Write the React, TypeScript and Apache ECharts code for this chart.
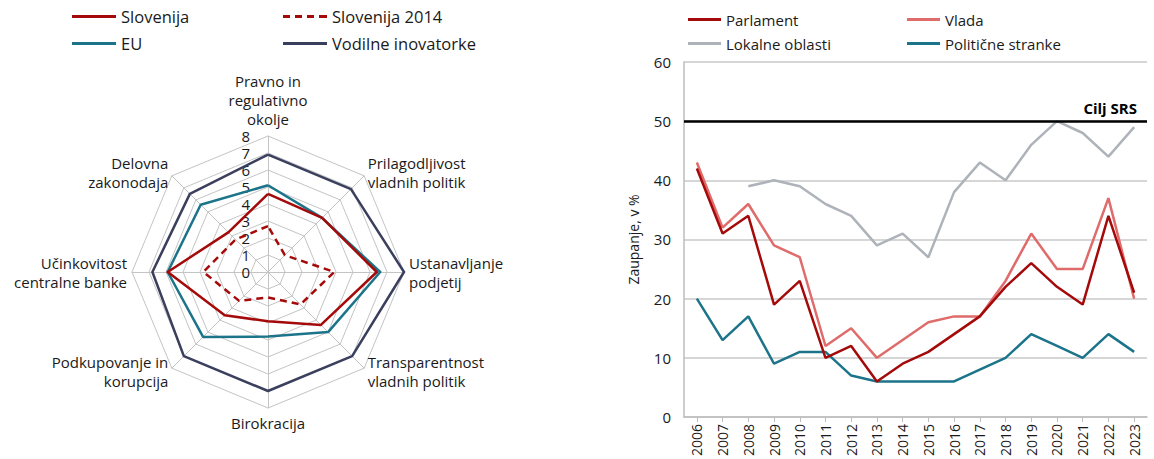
import React, { useEffect, useRef } from "react";
import * as echarts from "echarts";

// ---- Radar data (clockwise order from top) ----
const radarNames = [
  "Pravno in\nregulativno\nokolje",
  "Prilagodljivost\nvladnih politik",
  "Ustanavljanje\npodjetij",
  "Transparentnost\nvladnih politik",
  "Birokracija",
  "Podkupovanje in\nkorupcija",
  "Učinkovitost\ncentralne banke",
  "Delovna\nzakonodaja",
];
const slovenija = [4.6, 4.5, 6.4, 4.4, 2.9, 3.6, 5.9, 3.3];
const slovenija2014 = [2.7, 1.4, 3.9, 2.7, 1.5, 2.4, 3.8, 2.7];
const eu = [5.1, 4.5, 6.6, 5.0, 3.8, 5.4, 5.9, 5.6];
const vodilne = [6.9, 6.9, 8.0, 7.0, 7.0, 7.0, 6.8, 6.5];

// ---- Line chart data ----
const years = [
  "2006", "2007", "2008", "2009", "2010", "2011", "2012", "2013", "2014",
  "2015", "2016", "2017", "2018", "2019", "2020", "2021", "2022", "2023",
];
const parlament = [42, 31, 34, 19, 23, 10, 12, 6, 9, 11, 14, 17, 22, 26, 22, 19, 34, 21];
const vlada = [43, 32, 36, 29, 27, 12, 15, 10, 13, 16, 17, 17, 23, 31, 25, 25, 37, 20];
const lokalne = [null, null, 39, 40, 39, 36, 34, 29, 31, 27, 38, 43, 40, 46, 50, 48, 44, 49];
const stranke = [20, 13, 17, 9, 11, 11, 7, 6, 6, 6, 6, 8, 10, 14, 12, 10, 14, 11];
const targetValue = 50;
const targetLabel = "Cilj SRS";

const FONT = "'Open Sans', 'Noto Sans', sans-serif";
const TXT = "#1a1a1a";
const RED = "#a50a0a";
const LIGHTRED = "#df6b6b";
const GREY = "#aeb3ba";
const TEAL = "#1b7489";
const NAVY = "#3a3f5e";

// counter-clockwise order for ECharts radar (starting at top)
const ccw = (arr: any[]) => [arr[0], ...arr.slice(1).reverse()];

const dashPath = "path://M0,0h14v6h-14z M24,0h14v6h-14z M48,0h14v6h-14z M72,0h16v6h-16z";

export default function App() {
  const ref = useRef<HTMLDivElement>(null);
  useEffect(() => {
    const chart = echarts.init(ref.current!, undefined, { renderer: "svg" });
    const legendBase = {
      orient: "horizontal",
      itemWidth: 44,
      itemHeight: 3,
      itemGap: 6,
      padding: 0,
      symbolKeepAspect: false,
      textStyle: { fontFamily: FONT, fontSize: 16.5, color: TXT },
      selectedMode: false,
    };
    const rightLegend = {
      ...legendBase,
      itemWidth: 33,
      textStyle: { fontFamily: FONT, fontSize: 15, color: TXT },
    };
    const names = ccw(radarNames);
    chart.setOption({
      animation: false,
      textStyle: { fontFamily: FONT },
      legend: [
        { ...legendBase, data: [{ name: "Slovenija", icon: "rect" }], left: 72, top: 8 },
        { ...legendBase, data: [{ name: "Slovenija 2014", icon: dashPath }], left: 283, top: 8 },
        { ...legendBase, data: [{ name: "EU", icon: "rect" }], left: 72, top: 35 },
        { ...legendBase, data: [{ name: "Vodilne inovatorke", icon: "rect" }], left: 283, top: 35 },
        { ...rightLegend, data: [{ name: "Parlament", icon: "rect" }], left: 688, top: 12 },
        { ...rightLegend, data: [{ name: "Vlada", icon: "rect" }], left: 907, top: 12 },
        { ...rightLegend, data: [{ name: "Lokalne oblasti", icon: "rect" }], left: 688, top: 36 },
        { ...rightLegend, data: [{ name: "Politične stranke", icon: "rect" }], left: 907, top: 36 },
      ],
      radar: {
        center: [268, 272],
        radius: 136,
        shape: "polygon",
        startAngle: 90,
        splitNumber: 8,
        nameGap: 5,
        indicator: names.map((n: string, i: number) =>
          i === 0
            ? { name: n, min: 0, max: 8, axisLabel: { show: true } }
            : { name: n, min: 0, max: 8 }
        ),
        axisName: { color: TXT, fontSize: 15, fontFamily: FONT, lineHeight: 19 },
        splitLine: { lineStyle: { color: "#c4c4c4", width: 1 } },
        splitArea: { show: false },
        axisLine: { lineStyle: { color: "#c4c4c4", width: 1 } },
        axisTick: { show: false },
        axisLabel: { show: false, fontSize: 15, lineHeight: 15, color: TXT, fontFamily: FONT, margin: 18 },
      },
      grid: { left: 684, right: 7, top: 62, bottom: 41 },
      xAxis: {
        type: "category",
        data: years,
        boundaryGap: true,
        axisLine: { lineStyle: { color: "#bdbdbd", width: 1.5 } },
        axisTick: { show: true, alignWithLabel: true, length: 5, lineStyle: { color: "#bdbdbd" } },
        axisLabel: { rotate: 90, fontSize: 14, color: TXT, fontFamily: FONT, margin: 7 },
        splitLine: { show: false },
      },
      yAxis: {
        type: "value",
        min: 0,
        max: 60,
        interval: 10,
        name: "Zaupanje, v %",
        nameLocation: "middle",
        nameGap: 44,
        nameTextStyle: { fontSize: 14, color: TXT, fontFamily: FONT },
        axisLine: { show: true, lineStyle: { color: "#bdbdbd", width: 1.5 } },
        axisTick: { show: false },
        axisLabel: { fontSize: 15, color: TXT, fontFamily: FONT, margin: 13 },
        splitLine: { lineStyle: { color: "#c8c8c8", width: 1.5 } },
      },
      series: [
        {
          type: "radar",
          symbol: "none",
          data: [
            { name: "Vodilne inovatorke", value: ccw(vodilne), itemStyle: { color: NAVY }, lineStyle: { color: NAVY, width: 2.5 } },
            { name: "EU", value: ccw(eu), itemStyle: { color: TEAL }, lineStyle: { color: TEAL, width: 2.5 } },
            { name: "Slovenija", value: ccw(slovenija), itemStyle: { color: RED }, lineStyle: { color: RED, width: 2.5 } },
            { name: "Slovenija 2014", value: ccw(slovenija2014), itemStyle: { color: RED }, lineStyle: { color: RED, width: 2.5, type: [7, 5] } },
          ],
        },
        {
          type: "line",
          name: "Lokalne oblasti",
          data: lokalne,
          symbol: "none",
          color: GREY,
          lineStyle: { color: GREY, width: 2.5 },
        },
        {
          type: "line",
          name: "Politične stranke",
          data: stranke,
          symbol: "none",
          color: TEAL,
          lineStyle: { color: TEAL, width: 2.5 },
        },
        {
          type: "line",
          name: "Vlada",
          data: vlada,
          symbol: "none",
          color: LIGHTRED,
          lineStyle: { color: LIGHTRED, width: 2.5 },
        },
        {
          type: "line",
          name: "Parlament",
          data: parlament,
          symbol: "none",
          color: RED,
          lineStyle: { color: RED, width: 2.5 },
          markLine: {
            silent: true,
            symbol: "none",
            data: [{ yAxis: targetValue }],
            lineStyle: { color: "#000", width: 2.5, type: "solid" },
            label: {
              position: "insideEndTop",
              formatter: targetLabel,
              fontWeight: "bold",
              fontSize: 15,
              color: "#000",
              fontFamily: FONT,
              distance: [10, 6],
            },
          },
        },
      ],
    });
    return () => chart.dispose();
  }, []);
  return (
    <div
      ref={ref}
      style={{ position: "fixed", left: 0, top: 0, width: 1154, height: 459, background: "#fff" }}
    />
  );
}
